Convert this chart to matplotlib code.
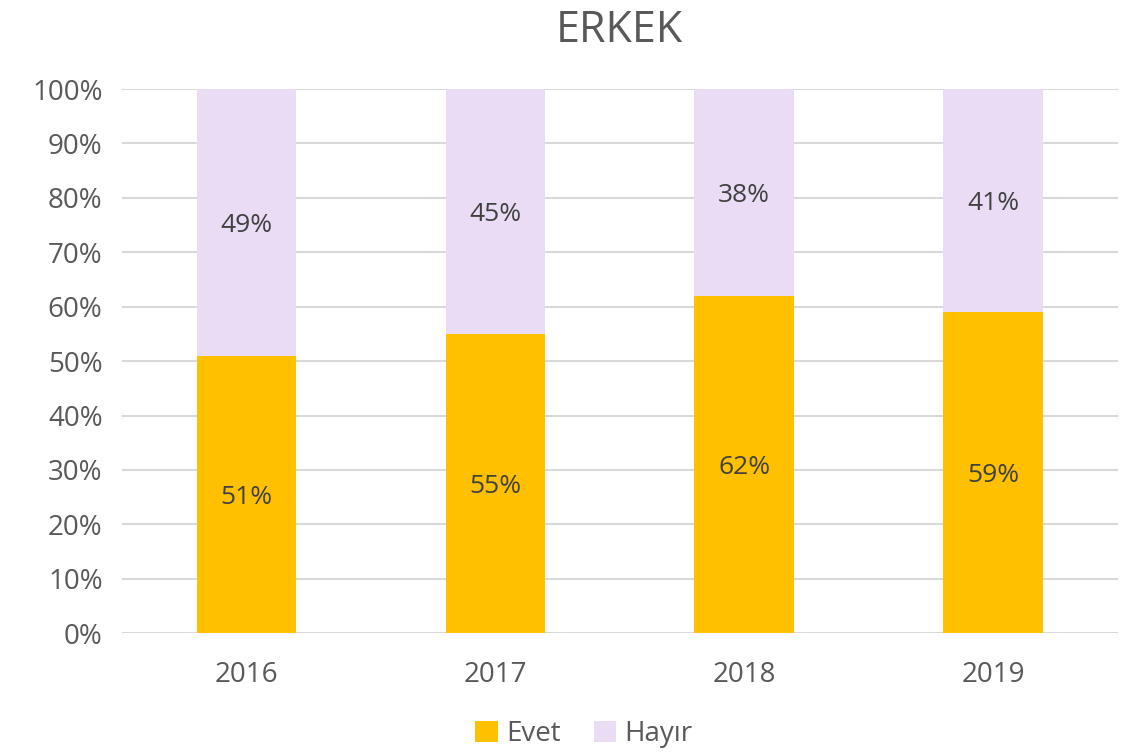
import numpy as np
import matplotlib.pyplot as plt
from matplotlib.ticker import PercentFormatter

years = ["2016", "2017", "2018", "2019"]
evet  = [51, 55, 62, 59]
hayir = [49, 45, 38, 41]

C_EVET  = "#ffc000"
C_HAYIR = "#e9dcf4"
TXT     = "#595959"
LBL     = "#404040"

plt.rcParams["font.family"] = ["Open Sans", "DejaVu Sans"]

fig = plt.figure(figsize=(11.45, 7.52), dpi=100)
ax = fig.add_axes([0.1066, 0.158, 0.8694, 0.7236])

x = np.arange(len(years))
b1 = ax.bar(x, evet, width=0.4, color=C_EVET, zorder=2, label="Evet")
b2 = ax.bar(x, hayir, width=0.4, bottom=evet, color=C_HAYIR, zorder=2, label="Hayır")

for xi, e, h in zip(x, evet, hayir):
    ax.text(xi, e / 2, f"{e}%", ha="center", va="center_baseline", fontsize=19,
            color=LBL, zorder=3)
    ax.text(xi, e + h / 2, f"{h}%", ha="center", va="center_baseline", fontsize=19,
            color=LBL, zorder=3)

ax.set_xlim(-0.5, 3.5)
ax.set_ylim(0, 100)
ax.set_yticks(range(0, 101, 10))
ax.yaxis.set_major_formatter(PercentFormatter(decimals=0))
ax.set_xticks(x, years)
ax.grid(axis="y", color="#d9d9d9", linewidth=1.5, zorder=0)
for s in ax.spines.values():
    s.set_visible(False)
ax.tick_params(length=0, labelsize=20, colors=TXT)
ax.tick_params(axis="x", pad=20)
ax.tick_params(axis="y", pad=14)

ax.set_title("ERKEK", fontsize=31, color=TXT, pad=34)

fig.legend(handles=[b1, b2], loc="center", bbox_to_anchor=(0.51, 0.024), ncol=2,
           frameon=False, fontsize=20, labelcolor=TXT, handlelength=0.8,
           handleheight=0.8, handletextpad=0.3, columnspacing=1.2)

fig.savefig("out.png", dpi=100)
